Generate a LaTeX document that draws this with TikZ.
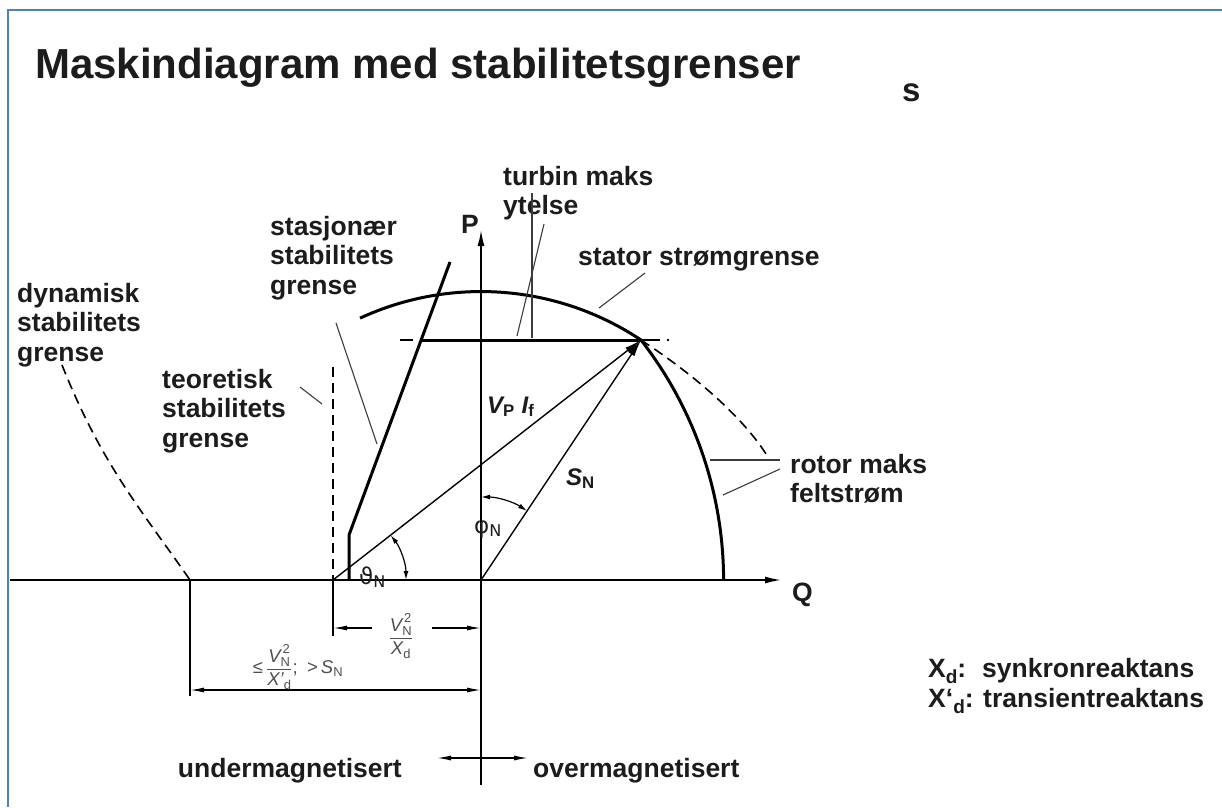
\documentclass[tikz,border=0pt]{standalone}
\usepackage{fontspec}
\usepackage{amsmath}
\setmainfont{Liberation Sans}
\newfontfamily\dejavu{DejaVu Sans}
\usetikzlibrary{arrows.meta}
\definecolor{frameblue}{RGB}{79,129,189}
\definecolor{ink}{RGB}{28,28,28}
\definecolor{leadgray}{RGB}{60,60,60}
\definecolor{dimgray}{RGB}{80,80,80}
\begin{document}
\begin{tikzpicture}[x=1pt,y=-1pt,
  lbl/.style={font=\bfseries\fontsize{26.5}{29.5}\selectfont, text=ink, inner sep=0pt, align=left, anchor=north west},
  lblb/.style={font=\bfseries\fontsize{26.5}{29.5}\selectfont, text=ink, inner sep=0pt, anchor=base west},
  symlbl/.style={font=\bfseries\fontsize{24}{26}\selectfont, text=ink, inner sep=0pt, anchor=base west},
  greeklbl/.style={font=\dejavu\fontsize{23}{26}\selectfont, text=ink, inner sep=0pt, anchor=base west},
  dimlbl/.style={font=\fontsize{18.5}{21}\selectfont, text=dimgray, inner sep=0pt},
  axisline/.style={line width=1.6pt, -{Latex[length=16pt,width=7pt]}},
  vecline/.style={line width=1.4pt, -{Latex[length=17pt,width=7pt]}},
  limitline/.style={line width=3pt},
  dashline/.style={line width=1.6pt, dash pattern=on 10pt off 6pt},
  leader/.style={line width=1.1pt, leadgray},
  dimline/.style={line width=1.3pt},
  dimtip/.style={-{Latex[length=14pt,width=5pt]}},
  dimtips/.style={{Latex[length=14pt,width=5pt]}-{Latex[length=14pt,width=5pt]}},
  angtips/.style={line width=1.2pt,{Latex[length=9pt,width=5pt]}-{Latex[length=9pt,width=5pt]}}
]
\useasboundingbox (0,0) rectangle (1222,807);
\fill[white] (0,0) rectangle (1222,807);
\draw[frameblue, line width=2pt] (8,807) -- (8,10) -- (1222,10);

% title
\node[font=\bfseries\fontsize{42}{46}\selectfont, text=ink, inner sep=0pt, anchor=base west] (title) at (35,78) {Maskindiagram med stabilitetsgrenser};
\node[font=\bfseries\fontsize{33}{34}\selectfont, text=ink, inner sep=0pt, anchor=base west] (s) at (902,101) {s};

% key points
\coordinate (O) at (481,580);
\coordinate (R) at (333,580);
\coordinate (D) at (190,580);
\coordinate (A) at (641,340);
\coordinate (Qs) at (10,580);
\coordinate (Qe) at (781,580);
\coordinate (Pb) at (481,785);
\coordinate (Pt) at (481,230);

% axes
\draw[axisline] (Qs) -- (Qe);
\draw[axisline] (Pb) -- (Pt);
\node[lblb] (Q) at (792,601) {Q};
\node[lblb] (P) at (461,233) {P};

% stationary stability limit
\coordinate (S1) at (349,535);
\coordinate (S2) at (450,262);
\draw[limitline] (349,580) -- (S1) -- (S2);

% turbine max
\coordinate (T0) at (421,340);
\draw[limitline] (T0) -- (A);
\draw[line width=1.2pt] (400,340) -- (413,340);
\draw[line width=1.2pt] (A) -- (660,340);
\fill (668,340) circle (1.3pt);

% stator current limit
\draw[limitline] (A) arc[start angle=56.3, end angle=114.8, radius=288.4pt];
% rotor limits
\draw[limitline] (A) arc[start angle=37.9, end angle=0, radius=391.5pt];
\draw[dashline] (A) .. controls (690,372) and (742,415) .. (768,457);

% theoretical stability limit
\draw[dashline] (333,367) -- (R);
\draw[dimline] (R) -- (333,636);

% dynamic stability limit
\draw[dashline] (62,365) .. controls (102,465) and (140,508) .. (D);
\draw[dimline] (D) -- (190,696);

% vectors
\draw[vecline] (O) -- (A);
\draw[vecline] (R) -- (A);

% angles
\draw[angtips] (481,497) arc[start angle=90, end angle=56.3, radius=83pt];
\draw[angtips] (406,580) arc[start angle=0, end angle=37.9, radius=73pt];

% labels of vectors and angles
\node[symlbl] (VPIf) at (487,413) {\itshape V\textsubscript{\upshape P} I\textsubscript{\upshape f}};
\node[symlbl] (SN) at (566,485) {\itshape S\textsubscript{\upshape N}};
\node[greeklbl] (phi) at (474,533) {φ\textsubscript{N}};
\node[greeklbl] (theta) at (359,584) {ϑ\textsubscript{N}};

% dimension lines
\draw[dimline,dimtip] (372,628) -- (R |- 0,628);
\draw[dimline,dimtip] (432,628) -- (O |- 0,628);
\node[dimlbl] (f1) at (401,636) {$\dfrac{\text{\itshape V}_{\text{N}}^{\,\text{2}}}{\text{\itshape X}_{\text{d}}}$};
\draw[dimline,dimtips] (190,690) -- (481,690);
\node[dimlbl] (f2) at (298,667) {≤\,$\dfrac{\text{\itshape V}_{\text{N}}^{\,\text{2}}}{\text{\itshape X'}_{\text{d}}}$;\enspace>\,\textit{S}$_{\text{N}}$};

% magnetisation
\draw[dimline,dimtips] (437,758) -- (528,758);
\node[lblb, anchor=base east] (under) at (402,777) {undermagnetisert};
\node[lblb] (over) at (533,777) {overmagnetisert};

% text labels
\node[lbl] (dyn) at (17,283) {dynamisk\\stabilitets\\grense};
\node[lbl] (teo) at (162,369) {teoretisk\\stabilitets\\grense};
\node[lbl] (sta) at (270,216) {stasjonær\\stabilitets\\grense};
\node[lbl] (tur) at (503,166) {turbin maks\\ytelse};
\node[lblb] (stator) at (578,265) {stator strømgrense};
\node[lbl] (rot) at (790,454) {rotor maks\\feltstrøm};

% leader lines
\draw[leader] (300,387) -- (322,404);
\draw[leader] (336,323) -- (377,444);
\draw[leader] (544,224) -- (517,336);
\draw[leader] (532,193) -- (532,338);
\draw[leader] (645,273) -- (599,308);
\draw[leader] (710,460) -- (780,460);
\draw[leader] (723,495) -- (780,469);

% legend
\node[lblb] (xd) at (928,677) {X\raisebox{-6pt}{\fontsize{19}{19}\selectfont d}:};
\node[lblb] (xdt) at (982,677) {synkronreaktans};
\node[lblb] (xdp) at (928,707) {X‘\raisebox{-6pt}{\fontsize{19}{19}\selectfont d}:};
\node[lblb] (xdpt) at (983,707) {transientreaktans};
\end{tikzpicture}
\end{document}
